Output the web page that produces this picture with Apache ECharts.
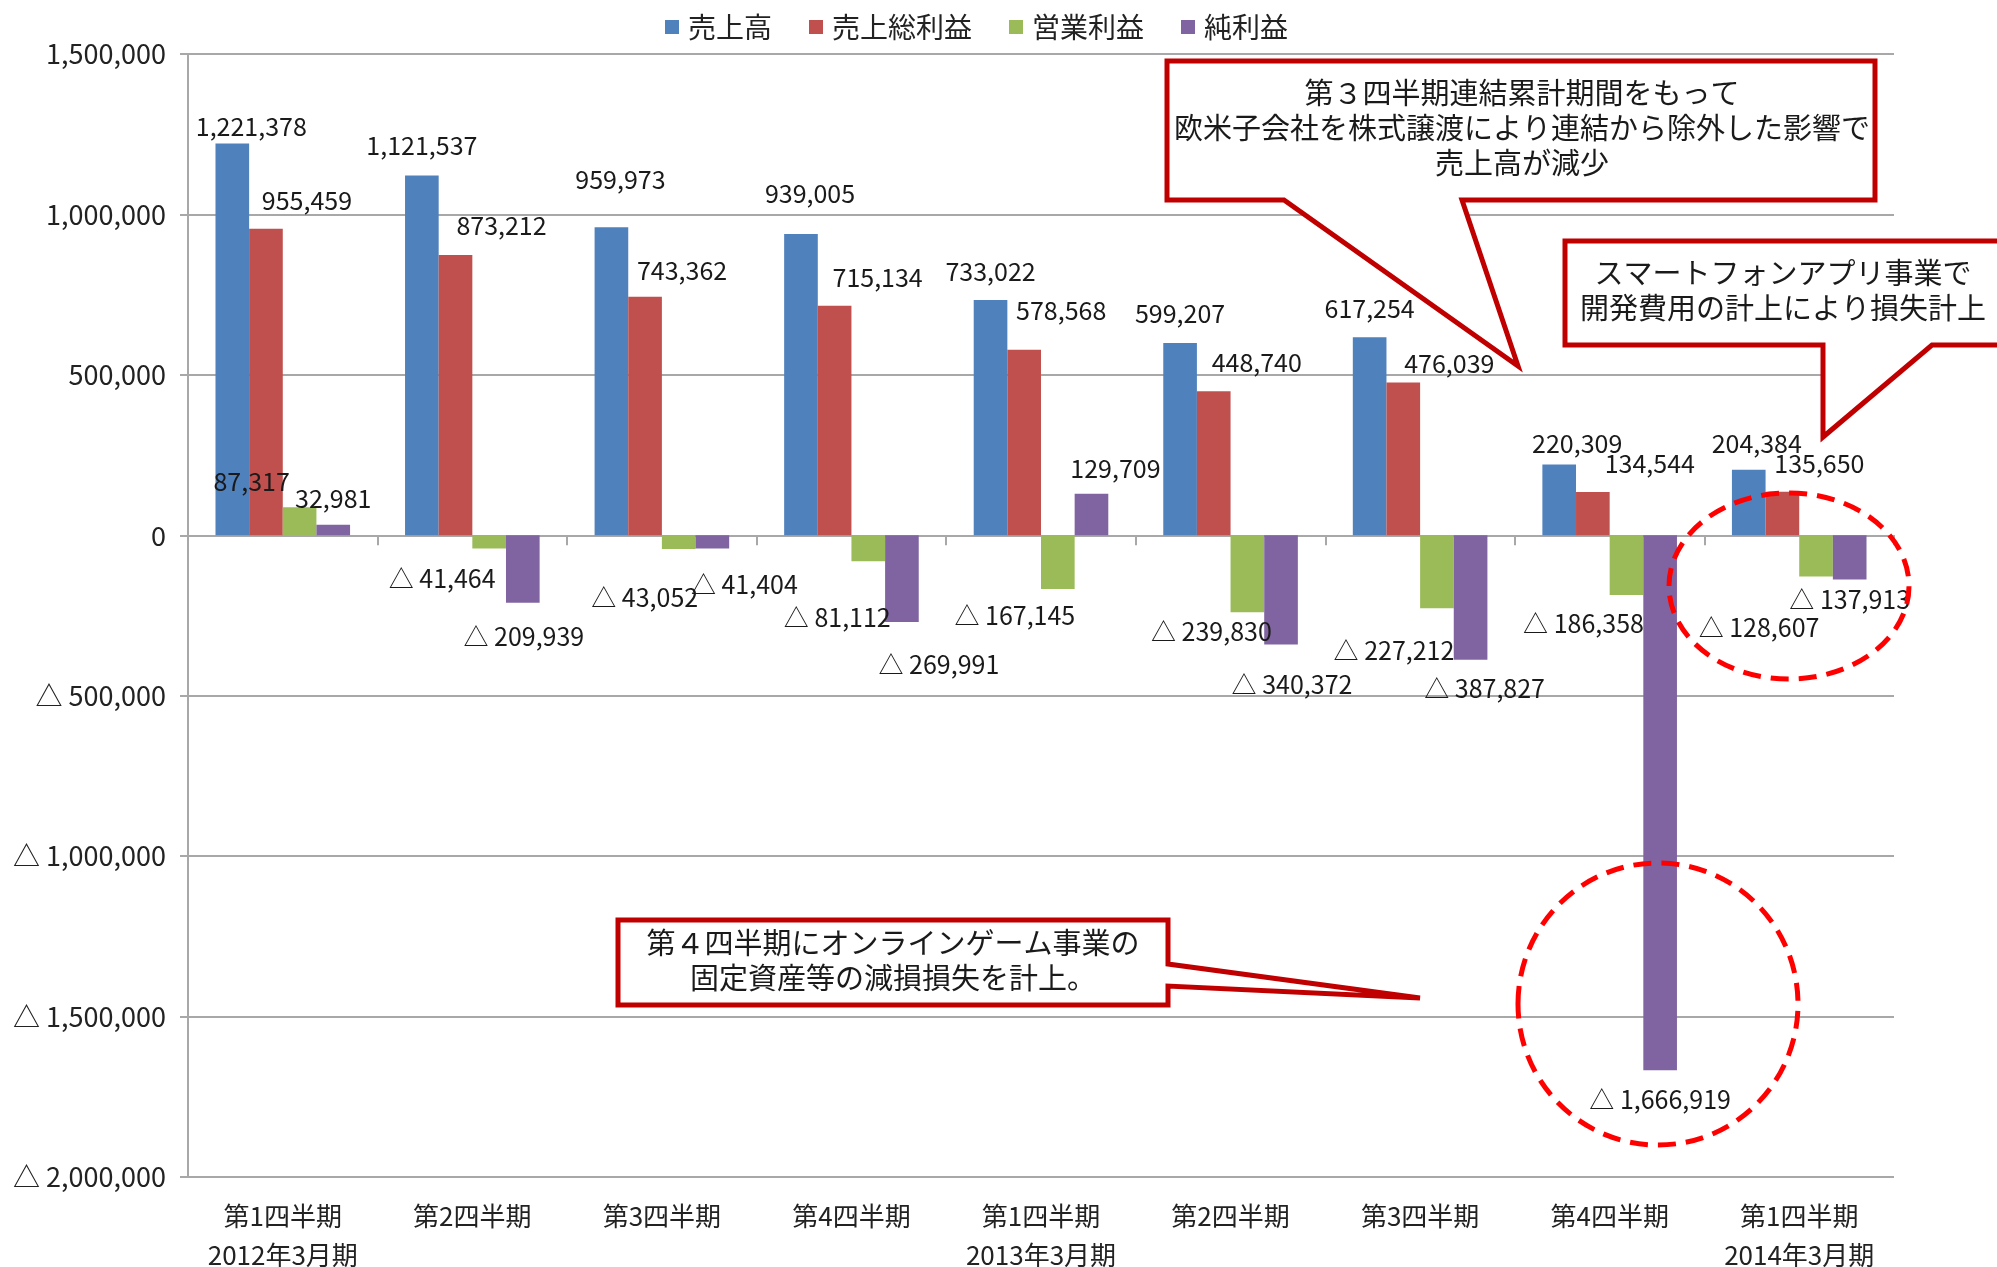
<!DOCTYPE html>
<html><head><meta charset="utf-8">
<script src="https://cdn.jsdelivr.net/npm/echarts@6/dist/echarts.min.js"></script>
<style>html,body{margin:0;padding:0;background:#fff}#c{width:1997px;height:1267px}</style>
</head><body><div id="c"></div>
<script>
const categories = ['第1四半期\n2012年3月期','第2四半期','第3四半期','第4四半期','第1四半期\n2013年3月期','第2四半期','第3四半期','第4四半期','第1四半期\n2014年3月期'];
const seriesNames = ['売上高','売上総利益','営業利益','純利益'];
const sales =        [1221378, 1121537, 959973, 939005, 733022, 599207, 617254, 220309, 204384];
const grossProfit =  [955459, 873212, 743362, 715134, 578568, 448740, 476039, 134544, 135650];
const operatingProfit = [87317, -41464, -43052, -81112, -167145, -239830, -227212, -186358, -128607];
const netProfit =    [32981, -209939, -41404, -269991, 129709, -340372, -387827, -1666919, -137913];
const yMin = -2000000, yMax = 1500000, yInterval = 500000;
const callout1Lines = ['第３四半期連結累計期間をもって','欧米子会社を株式譲渡により連結から除外した影響で','売上高が減少'];
const callout2Lines = ['スマートフォンアプリ事業で','開発費用の計上により損失計上'];
const callout3Lines = ['第４四半期にオンラインゲーム事業の','固定資産等の減損損失を計上。'];

// label placement nudges (style only): horizontal shift and gap from bar end, in px
const labelDx = [
  [19,0,9,9,0,0,0,18,8],
  [41,46,37,43,37,43,46,57,37],
  [-48,-47,-34,-31,-43,-36,-43,-43,-57],
  [0,1,32,37,24,11,14,0,0]
];
const labelGap = [
  [4,17,35,28,16,17,16,9,14],
  [16,17,14,16,27,16,7,16,16],
  [13,17,36,44,14,7,30,16,38],
  [14,21,23,30,13,28,16,17,7]
];

const FONT = '"Noto Sans CJK JP", "Noto Sans", sans-serif';
const colors = ['#4F81BD','#C0504D','#9BBB59','#8064A2'];
function fmt(v){ return v < 0 ? '△ ' + Math.abs(v).toLocaleString('en-US') : v.toLocaleString('en-US'); }

function makeSeries(name, arr, i){
  return {
    name: name, type: 'bar', xAxisIndex: 0,
    barGap: '0%', barCategoryGap: '29%',
    itemStyle: {color: colors[i]},
    data: arr.map((v, j) => ({
      value: v,
      label: {
        position: v >= 0 ? 'top' : 'bottom',
        distance: 0,
        offset: [labelDx[i][j], v >= 0 ? -labelGap[i][j] : labelGap[i][j]]
      }
    })),
    label: {
      show: true, fontFamily: FONT, fontSize: 25, color: '#1a1a1a',
      formatter: p => fmt(p.value)
    }
  };
}

const textStyleBase = {fontFamily: FONT, fontSize: 29, fill: '#1a1a1a', textAlign: 'center', textVerticalAlign: 'middle'};
function textEls(lines, cx, y0, lh){
  return lines.map((t, k) => ({type:'text', z:110, style: Object.assign({}, textStyleBase, {text:t, x:cx, y:y0 + k*lh})}));
}
const calloutStyle = {fill:'#fff', stroke:'#C00000', lineWidth:5, lineJoin:'miter'};

const chart = echarts.init(document.getElementById('c'));
chart.setOption({
  animation: false,
  backgroundColor: '#fff',
  color: colors,
  legend: {
    top: 8, left: 660, itemWidth: 14, itemHeight: 14, itemGap: 37, icon: 'rect',
    textStyle: {fontFamily: FONT, fontSize: 28, color: '#222', padding:[0,0,0,4]},
    data: seriesNames
  },
  grid: {left: 188, right: 103, top: 54, bottom: 90, containLabel: false, outerBoundsMode: 'none'},
  xAxis: [
    {
      type: 'category', data: categories, position: 'bottom',
      axisLine: {show: false, onZero: false}, axisTick: {show: false},
      axisLabel: {fontFamily: FONT, fontSize: 26, color: '#222', margin: 20, lineHeight: 39, interval: 0}
    },
    {
      type: 'category', data: categories, position: 'top',
      axisLine: {show: true, onZero: true, lineStyle: {color: '#A8A8A8', width: 2}},
      axisTick: {show: true, inside: true, length: 10, lineStyle: {color: '#A8A8A8', width: 2}},
      axisLabel: {show: false}
    }
  ],
  yAxis: {
    type: 'value', min: yMin, max: yMax, interval: yInterval,
    axisLine: {show: true, lineStyle: {color: '#A8A8A8', width: 2}},
    axisTick: {show: true, length: 8, lineStyle: {color: '#A8A8A8', width: 2}},
    splitLine: {show: true, lineStyle: {color: '#A8A8A8', width: 2}},
    axisLabel: {fontFamily: FONT, fontSize: 27, color: '#222', margin: 22, formatter: v => fmt(v)}
  },
  series: [
    makeSeries(seriesNames[0], sales, 0),
    makeSeries(seriesNames[1], grossProfit, 1),
    makeSeries(seriesNames[2], operatingProfit, 2),
    makeSeries(seriesNames[3], netProfit, 3)
  ],
  graphic: [
    {type:'polygon', z:100, shape:{points:[[1167,61],[1875,61],[1875,200],[1462,200],[1518,366],[1284,200],[1167,200]]}, style: calloutStyle},
    ...textEls(callout1Lines, 1522, 93, 35),
    {type:'polygon', z:100, shape:{points:[[1565,241],[2010,241],[2010,345],[1932,345],[1823,437],[1823,345],[1565,345]]}, style: calloutStyle},
    ...textEls(callout2Lines, 1783, 273, 35),
    {type:'polygon', z:100, shape:{points:[[618,920],[1168,920],[1168,964],[1420,998],[1168,986],[1168,1005],[618,1005]]}, style: calloutStyle},
    ...textEls(callout3Lines, 893, 943, 35),
    {type:'ellipse', z:105, shape:{cx:1789, cy:586, rx:120, ry:93}, style:{fill:'none', stroke:'#FF0000', lineWidth:5, lineDash:[18,10]}},
    {type:'ellipse', z:105, shape:{cx:1658, cy:1004, rx:140, ry:141}, style:{fill:'none', stroke:'#FF0000', lineWidth:5, lineDash:[18,10]}}
  ]
});
</script></body></html>
